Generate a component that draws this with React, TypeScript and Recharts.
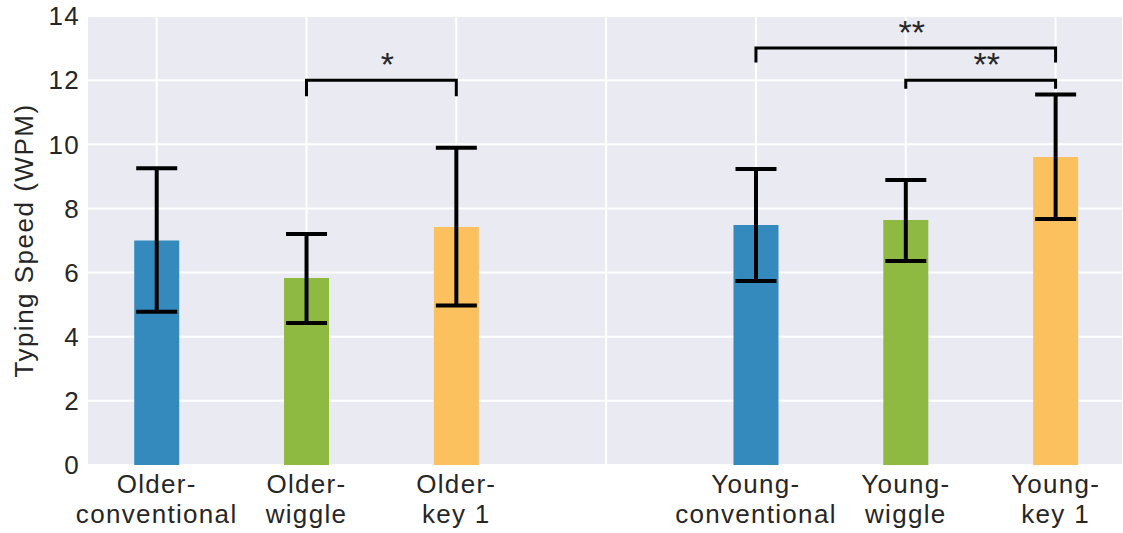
import { ComposedChart, Bar, Cell, ErrorBar, XAxis, YAxis, CartesianGrid, Line, LabelList, Label } from 'recharts';

const FONT = '"Liberation Sans", Arial, Helvetica, sans-serif';
const TEXT = '#262626';

// tick labels, slot 3 is the empty gap between the two groups
const tickTop = ['Older-', 'Older-', 'Older-', '', 'Young-', 'Young-', 'Young-'];
const tickBottom = ['conventional', 'wiggle', 'key 1', '', 'conventional', 'wiggle', 'key 1'];

// bars
const positions = [0, 1, 2, 4, 5, 6];
const means = [7.0, 5.83, 7.42, 7.48, 7.64, 9.6];
const lower = [4.78, 4.43, 4.97, 5.74, 6.36, 7.67];
const upper = [9.25, 7.2, 9.89, 9.23, 8.89, 11.55];
const barColors = ['#348ABD', '#8EBA42', '#FBC15E', '#348ABD', '#8EBA42', '#FBC15E'];

// significance brackets
const bracketFrom = [1, 4, 5];
const bracketTo = [2, 6, 6];
const bracketTop = [12.0, 13.0, 12.0];
const bracketLeg = [11.5, 12.55, 11.73];
const bracketText = ['*', '**', '**'];

const rows = positions.map((x, i) => ({
  x,
  mean: means[i],
  err: [means[i] - lower[i], upper[i] - means[i]],
}));

const brackets = bracketFrom.map((a, i) => [
  { x: a, y: bracketLeg[i] },
  { x: a, y: bracketTop[i] },
  { x: bracketTo[i], y: bracketTop[i] },
  { x: bracketTo[i], y: bracketLeg[i] },
]);

const stars = bracketText.map((t, i) => ({ x: (bracketFrom[i] + bracketTo[i]) / 2, y: bracketTop[i], t }));

function GroupTick({ x, y, payload }: any) {
  const i = payload.value;
  if (!tickTop[i]) return <g />;
  return (
    <text x={x} y={y} textAnchor="middle" fill={TEXT} fontSize={26} fontFamily={FONT} letterSpacing={1.3}>
      <tspan x={x} dy={28}>{tickTop[i]}</tspan>
      <tspan x={x} dy={30}>{tickBottom[i]}</tspan>
    </text>
  );
}

function StarLabel({ x, y, value }: any) {
  return (
    <text x={x + 6} y={y - 4} textAnchor="middle" fill={TEXT} fontSize={34} fontFamily={FONT}>
      {value}
    </text>
  );
}

function YTitle({ viewBox }: any) {
  const cx = viewBox.x + 26;
  const cy = viewBox.y + viewBox.height / 2;
  return (
    <text
      x={cx}
      y={cy}
      transform={`rotate(-90, ${cx}, ${cy})`}
      textAnchor="middle"
      fill={TEXT}
      fontSize={26}
      fontFamily={FONT}
      letterSpacing={1.5}
    >
      Typing Speed (WPM)
    </text>
  );
}

export default function App() {
  return (
    <div style={{ position: 'absolute', left: 0, top: 0, background: '#fff' }}>
      <ComposedChart
        width={1123}
        height={533}
        data={rows}
        margin={{ top: 16, right: 0, bottom: 0, left: 7 }}
      >
        <CartesianGrid stroke="#ffffff" strokeWidth={2} fill="#EAEAF2" />
        <XAxis
          dataKey="x"
          type="number"
          domain={[-0.465, 6.45]}
          allowDataOverflow
          ticks={[0, 1, 2, 3, 4, 5, 6]}
          interval={0}
          axisLine={false}
          tickLine={false}
          tickSize={0}
          tickMargin={0}
          height={68}
          tick={<GroupTick />}
        />
        <YAxis
          type="number"
          domain={[0, 14]}
          ticks={[0, 2, 4, 6, 8, 10, 12, 14]}
          allowDataOverflow
          axisLine={false}
          tickLine={false}
          tickSize={0}
          tickMargin={7}
          width={80}
          tick={{ fontSize: 26, fill: TEXT, fontFamily: FONT, letterSpacing: 1.3 }}
        >
          <Label content={<YTitle />} />
        </YAxis>
        <Bar dataKey="mean" barSize={45} isAnimationActive={false}>
          {rows.map((r, i) => (
            <Cell key={r.x} fill={barColors[i]} />
          ))}
          <ErrorBar dataKey="err" direction="y" width={20.5} stroke="#000" strokeWidth={4} />
        </Bar>
        {brackets.map((pts, i) => (
          <Line
            key={'br' + i}
            data={pts}
            dataKey="y"
            type="linear"
            stroke="#000"
            strokeWidth={3}
            dot={false}
            activeDot={false}
            isAnimationActive={false}
          />
        ))}
        <Line
          data={stars}
          dataKey="y"
          stroke="none"
          dot={false}
          activeDot={false}
          isAnimationActive={false}
        >
          <LabelList dataKey="t" content={<StarLabel />} />
        </Line>
      </ComposedChart>
    </div>
  );
}
